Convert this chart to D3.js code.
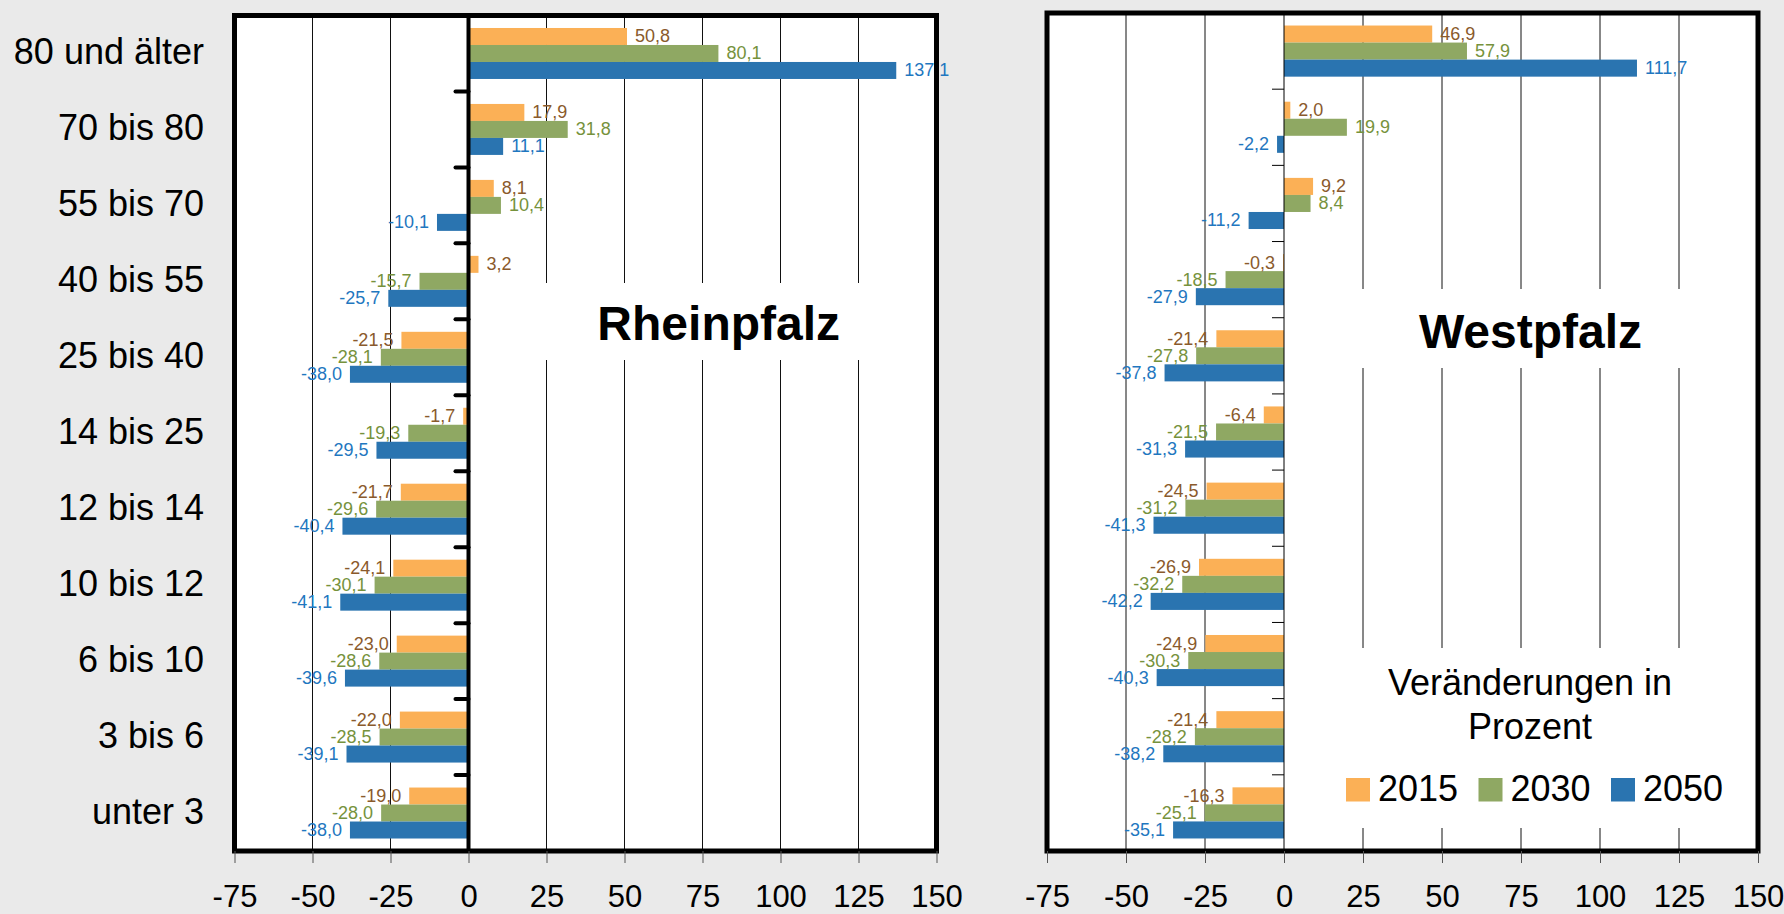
<!DOCTYPE html>
<html><head><meta charset="utf-8">
<script src="https://cdn.jsdelivr.net/npm/d3@7"></script>
<style>body{margin:0;background:#EAEAEA;} svg{display:block;font-family:"Liberation Sans",Arial,sans-serif;}</style>
</head><body>
<svg id="chart" width="1784" height="914"></svg>
<script>
// ---------- data ----------
const categories = ["80 und älter","70 bis 80","55 bis 70","40 bis 55","25 bis 40","14 bis 25","12 bis 14","10 bis 12","6 bis 10","3 bis 6","unter 3"];
const seriesNames = ["2015","2030","2050"];
const rhein2015 = [50.8, 17.9, 8.1, 3.2, -21.5, -1.7, -21.7, -24.1, -23.0, -22.0, -19.0];
const rhein2030 = [80.1, 31.8, 10.4, -15.7, -28.1, -19.3, -29.6, -30.1, -28.6, -28.5, -28.0];
const rhein2050 = [137.1, 11.1, -10.1, -25.7, -38.0, -29.5, -40.4, -41.1, -39.6, -39.1, -38.0];
const west2015 = [46.9, 2.0, 9.2, -0.3, -21.4, -6.4, -24.5, -26.9, -24.9, -21.4, -16.3];
const west2030 = [57.9, 19.9, 8.4, -18.5, -27.8, -21.5, -31.2, -32.2, -30.3, -28.2, -25.1];
const west2050 = [111.7, -2.2, -11.2, -27.9, -37.8, -31.3, -41.3, -42.2, -40.3, -38.2, -35.1];
const xTicks = [-75, -50, -25, 0, 25, 50, 75, 100, 125, 150];
const panelTitles = ["Rheinpfalz", "Westpfalz"];
const legendTitle = ["Veränderungen in", "Prozent"];

// ---------- styles ----------
const barColors = ["#FBB056", "#8FA863", "#2A74B0"];
const labelColors = ["#8A5A2C", "#76923C", "#1F77C0"];

const locale = d3.formatLocale({decimal: ",", thousands: ".", grouping: [3], currency: ["", "€"], minus: "-"});
const fmt = locale.format(".1f");
const tickFmt = locale.format("d");

const svg = d3.select("#chart");

const panels = [
  {title: panelTitles[0], series: [rhein2015, rhein2030, rhein2050],
   left: 234.5, right: 936.5, top: 15.5, bottom: 851,
   zeroWidth: 4, yTickLen: 13, yTickWidth: 4, showCats: true,
   titleBox: {x0: 490, x1: 934, y0: 283, y1: 360}, titleX: 718.7, titleY: 339.5},
  {title: panelTitles[1], series: [west2015, west2030, west2050],
   left: 1047, right: 1758, top: 13, bottom: 851,
   zeroWidth: 1, yTickLen: 12, yTickWidth: 1, showCats: false,
   titleBox: {x0: 1300, x1: 1755, y0: 289, y1: 368}, titleX: 1530.5, titleY: 347.5,
   legend: {x0: 1310, x1: 1755, y0: 648, y1: 828}}
];

panels.forEach(p => {
  const x = d3.scaleLinear().domain([-75, 150]).range([p.left, p.right]);
  const y = d3.scaleBand().domain(categories).range([p.top, p.bottom]).padding(0);
  const ys = d3.scaleBand().domain(seriesNames).range([0, y.bandwidth()]).paddingInner(0).paddingOuter(0.735);
  const g = svg.append("g");

  // plot area
  g.append("rect").attr("x", p.left).attr("y", p.top).attr("width", p.right - p.left).attr("height", p.bottom - p.top).attr("fill", "#fff");

  // gridlines
  g.append("g").selectAll("line").data(xTicks.filter(t => t !== 0)).join("line")
    .attr("x1", d => x(d)).attr("x2", d => x(d)).attr("y1", p.top).attr("y2", p.bottom)
    .attr("stroke", "#111").attr("stroke-width", 1);

  // white boxes behind title / legend
  g.append("rect").attr("x", p.titleBox.x0).attr("y", p.titleBox.y0)
    .attr("width", p.titleBox.x1 - p.titleBox.x0).attr("height", p.titleBox.y1 - p.titleBox.y0).attr("fill", "#fff");
  if (p.legend) {
    g.append("rect").attr("x", p.legend.x0).attr("y", p.legend.y0)
      .attr("width", p.legend.x1 - p.legend.x0).attr("height", p.legend.y1 - p.legend.y0).attr("fill", "#fff");
  }

  // bars
  p.series.forEach((vals, si) => {
    g.append("g").selectAll("rect").data(vals).join("rect")
      .attr("x", d => x(Math.min(0, d))).attr("width", d => Math.abs(x(d) - x(0)))
      .attr("y", (d, i) => y(categories[i]) + ys(seriesNames[si])).attr("height", ys.bandwidth())
      .attr("fill", barColors[si]);
  });

  // zero axis
  g.append("line").attr("x1", x(0)).attr("x2", x(0)).attr("y1", p.top).attr("y2", p.bottom)
    .attr("stroke", "#000").attr("stroke-width", p.zeroWidth);
  // category boundary ticks
  g.append("g").selectAll("line").data(categories.slice(1)).join("line")
    .attr("x1", x(0) - p.yTickLen).attr("x2", x(0)).attr("y1", d => y(d)).attr("y2", d => y(d))
    .attr("stroke", "#000").attr("stroke-width", p.yTickWidth).attr("stroke-linecap", p.yTickWidth > 1 ? "round" : "butt");

  // value labels
  p.series.forEach((vals, si) => {
    g.append("g").selectAll("text").data(vals).join("text")
      .attr("x", d => d >= 0 ? x(d) + 8 : x(d) - 8)
      .attr("y", (d, i) => y(categories[i]) + ys(seriesNames[si]) + ys.bandwidth() / 2 + 6)
      .attr("text-anchor", d => d >= 0 ? "start" : "end")
      .attr("font-size", 18).attr("fill", labelColors[si])
      .text(d => fmt(d));
  });

  // category labels
  if (p.showCats) {
    svg.append("g").selectAll("text").data(categories).join("text")
      .attr("x", 204).attr("y", d => y(d) + y.bandwidth() / 2 + 11)
      .attr("text-anchor", "end").attr("font-size", 36).attr("fill", "#000")
      .text(d => d);
  }

  // title
  g.append("text").attr("x", p.titleX).attr("y", p.titleY).attr("text-anchor", "middle")
    .attr("font-size", 48).attr("font-weight", "bold").attr("fill", "#000").text(p.title);

  // legend
  if (p.legend) {
    legendTitle.forEach((t, i) => {
      g.append("text").attr("x", 1530).attr("y", 695 + i * 43.5).attr("text-anchor", "middle")
        .attr("font-size", 36).attr("fill", "#000").text(t);
    });
    const lx = d3.scalePoint().domain(seriesNames).range([1346, 1611]);
    seriesNames.forEach((s, i) => {
      g.append("rect").attr("x", lx(s)).attr("y", 778).attr("width", 24).attr("height", 23.5).attr("fill", barColors[i]);
      g.append("text").attr("x", lx(s) + 32).attr("y", 800.5).attr("font-size", 36).attr("fill", "#000").text(s);
    });
  }

  // border
  g.append("rect").attr("x", p.left).attr("y", p.top).attr("width", p.right - p.left).attr("height", p.bottom - p.top)
    .attr("fill", "none").attr("stroke", "#000").attr("stroke-width", 5);

  // bottom axis
  const axis = d3.axisBottom(x).tickValues(xTicks).tickSize(12).tickPadding(0).tickFormat(tickFmt);
  const ax = svg.append("g").attr("transform", `translate(0,${p.bottom})`).call(axis);
  ax.select(".domain").remove();
  ax.selectAll(".tick line").attr("stroke", "#555").attr("stroke-width", 1);
  ax.selectAll(".tick text").attr("y", 56).attr("dy", 0).attr("font-size", 31)
    .attr("font-family", "'Liberation Sans', Arial, sans-serif").attr("fill", "#000");
});
</script>
</body></html>
